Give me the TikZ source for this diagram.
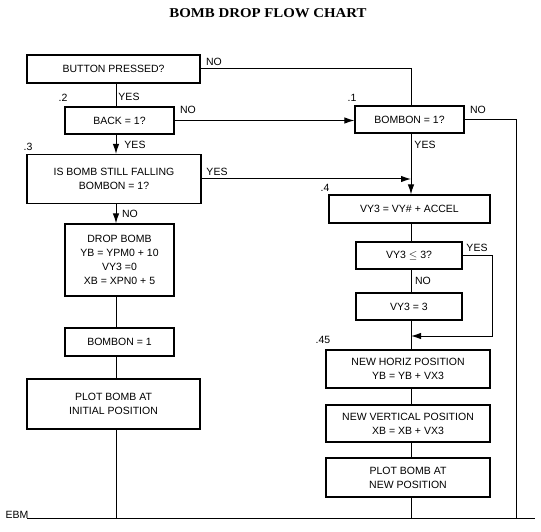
\documentclass[tikz,border=0pt]{standalone}
\usepackage{fontspec}
\setmainfont{Liberation Sans}
\newfontfamily\titlefont{Liberation Serif}
\usetikzlibrary{arrows.meta}

\begin{document}
\begin{tikzpicture}[x=1pt,y=-1pt,line width=1pt,
    box/.style={draw,line width=1.2pt,align=center,inner sep=0pt,font=\fontsize{10.5}{14}\selectfont},
    lbl/.style={inner sep=0pt,font=\fontsize{10.5}{12}\selectfont},
    arr/.style={-{Latex[length=10pt,width=6.5pt]}}]
    \useasboundingbox (0,0) rectangle (541,532);

    \node[font=\titlefont\bfseries\fontsize{13.5}{16}\selectfont,xscale=1.1] (title) at (268,13.5) {BOMB DROP FLOW CHART};

    \node[box,minimum width=173pt,minimum height=28pt] (btn) at (113.5,69) {BUTTON PRESSED?};
    \node[box,minimum width=109pt,minimum height=27pt] (back) at (119.5,120.5) {BACK = 1?};
    \node[box,minimum width=174pt,minimum height=49pt] (fall) at (114,179) {IS BOMB STILL FALLING\\BOMBON = 1?};
    \node[box,minimum width=109pt,minimum height=72pt] (drop) at (119.5,260) {DROP BOMB\\YB = YPM0 + 10\\VY3 =0\\XB = XPN0 + 5};
    \node[box,minimum width=109pt,minimum height=28pt] (bset) at (119.5,342) {BOMBON = 1};
    \node[box,minimum width=173pt,minimum height=50pt] (plotinit) at (113.5,404) {PLOT BOMB AT\\INITIAL POSITION};

    \node[box,minimum width=109pt,minimum height=27pt] (bombon) at (409.5,119.5) {BOMBON = 1?};
    \node[box,minimum width=161pt,minimum height=28pt] (vy) at (409.5,209) {VY3 = VY\# + ACCEL};
    \node[box,minimum width=106pt,minimum height=27pt] (vyle) at (409,255.5) {VY3 $\leq$ 3?};
    \node[box,minimum width=106pt,minimum height=27pt] (vyset) at (409,306.5) {VY3 = 3};
    \node[box,minimum width=164pt,minimum height=38pt] (horiz) at (408,369) {NEW HORIZ POSITION\\YB = YB + VX3};
    \node[box,minimum width=164pt,minimum height=37pt] (vert) at (408,423.5) {NEW VERTICAL POSITION\\XB = XB + VX3};
    \node[box,minimum width=164pt,minimum height=39pt] (plotnew) at (408,477.5) {PLOT BOMB AT\\NEW POSITION};

    \coordinate (lx) at (116,0);
    \coordinate (rx) at (411,0);
    \coordinate (nox) at (516,0);
    \coordinate (yesx) at (492,0);
    \coordinate (join) at (411,336);
    \coordinate (ebmL) at (27,518);
    \coordinate (ebmR) at (535,518);

    \draw (btn.south -| lx) -- (back.north -| lx);
    \draw[arr] (back.south -| lx) -- (fall.north -| lx);
    \draw[arr] (fall.south -| lx) -- (drop.north -| lx);
    \draw (drop.south -| lx) -- (bset.north -| lx);
    \draw (bset.south -| lx) -- (plotinit.north -| lx);
    \draw (plotinit.south -| lx) -- (ebmL -| lx);

    \draw (btn.east) -| (bombon.north -| rx);
    \draw[arr] (back.east) -- (back.east -| bombon.west);
    \draw[arr] (fall.east) -- (fall.east -| rx);
    \draw[arr] (bombon.south -| rx) -- (vy.north -| rx);
    \draw (bombon.east) -| (ebmR -| nox);
    \draw (vy.south -| rx) -- (vyle.north -| rx);
    \draw (vyle.south -| rx) -- (vyset.north -| rx);
    \draw[arr] (vyle.east) -| (yesx |- join) -- (join);
    \draw (vyset.south -| rx) -- (horiz.north -| rx);
    \draw (horiz.south -| rx) -- (vert.north -| rx);
    \draw (vert.south -| rx) -- (plotnew.north -| rx);
    \draw (plotnew.south -| rx) -- (ebmR -| rx);
    \draw (ebmL) -- (ebmR);

    \node[lbl] (nobtn) at (214,62) {NO};
    \node[lbl] (yesbtn) at (129,97) {YES};
    \node[lbl] (num2) at (63,98) {.2};
    \node[lbl] (noback) at (188,110) {NO};
    \node[lbl] (yesback) at (135,145) {YES};
    \node[lbl] (num3) at (28,147) {.3};
    \node[lbl] (yesfall) at (217,172) {YES};
    \node[lbl] (nofall) at (130,214) {NO};
    \node[lbl] (num1) at (352,98) {.1};
    \node[lbl] (nobombon) at (478,110) {NO};
    \node[lbl] (yesbombon) at (425,145) {YES};
    \node[lbl] (num4) at (325,188) {.4};
    \node[lbl] (yesvyle) at (477,248) {YES};
    \node[lbl] (novyle) at (423,281) {NO};
    \node[lbl] (num45) at (323,340) {.45};
    \node[lbl,anchor=west] (ebm) at (5,515) {EBM};
\end{tikzpicture}
\end{document}
